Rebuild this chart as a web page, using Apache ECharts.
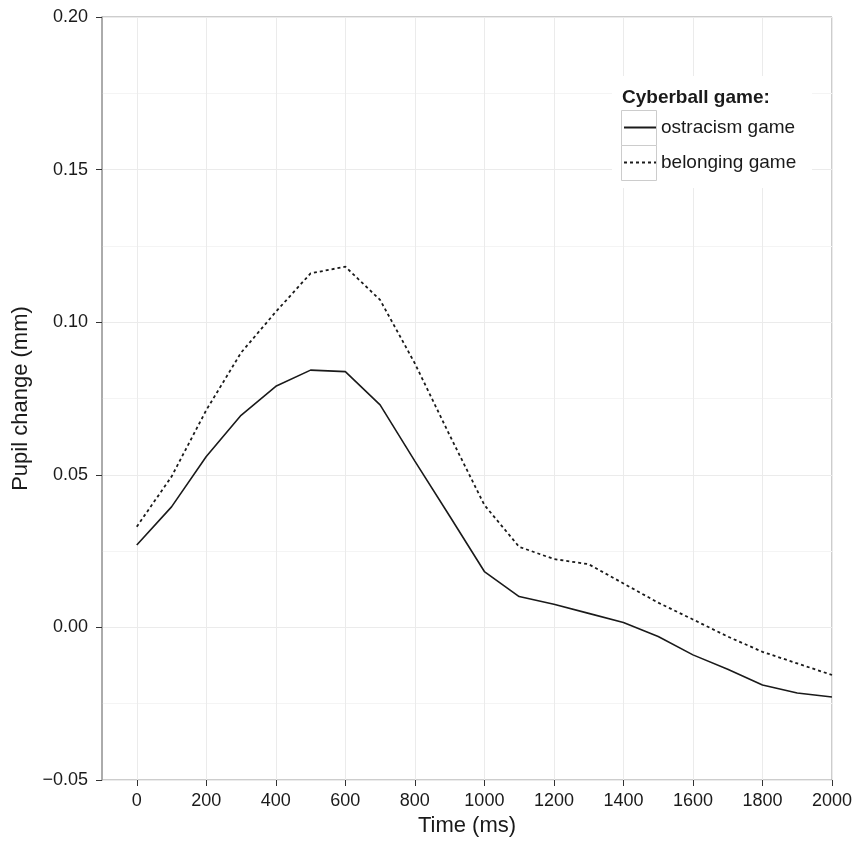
<!DOCTYPE html>
<html>
<head>
<meta charset="utf-8">
<title>Pupil change - Cyberball</title>
<script src="https://cdn.jsdelivr.net/npm/echarts@6.0.0/dist/echarts.min.js"></script>
<style>
  html, body { margin: 0; padding: 0; background: #fff; }
  #main { width: 857px; height: 843px; }
</style>
</head>
<body>
<div id="main"></div>
<script>
// 时间点 (ms)
const timeMs = [0, 100, 200, 300, 400, 500, 600, 700, 800, 900, 1000,
  1100, 1200, 1300, 1400, 1500, 1600, 1700, 1800, 1900, 2000]
// ostracism game
const ostracism = [0.027, 0.0395, 0.056, 0.0695, 0.079, 0.0843, 0.0838, 0.0729, 0.0545, 0.0365, 0.0183,
  0.0101, 0.0076, 0.0046, 0.0016, -0.003, -0.009, -0.0137, -0.0189, -0.0215, -0.0228]
// belonging game
const belonging = [0.033, 0.0494, 0.0712, 0.09, 0.1034, 0.116, 0.1182, 0.1073, 0.0865, 0.063, 0.0401,
  0.0264, 0.0224, 0.0207, 0.0144, 0.0081, 0.0026, -0.003, -0.008, -0.0118, -0.0156]
// X轴刻度
const timeTicks = [0, 200, 400, 600, 800, 1000, 1200, 1400, 1600, 1800, 2000]
const seriesNames = ['ostracism game', 'belonging game']
const legendTitle = 'Cyberball game:'

const font = '"Liberation Sans", Arial, Helvetica, sans-serif'
const ink = '#1a1a1a'

function pairs(values) {
  return timeMs.map((t, i) => [t, values[i]])
}

const myChart = echarts.init(document.getElementById('main'))

const option = {
  backgroundColor: '#fff',
  animation: false,
  textStyle: { fontFamily: font },
  grid: {
    left: 102,
    right: 25,
    top: 17,
    bottom: 63,
    outerBoundsMode: 'none',
    show: true,
    borderColor: '#9a9a9a',
    borderWidth: 1
  },
  legend: {
    orient: 'vertical',
    left: 623,
    top: 110,
    itemWidth: 32,
    itemHeight: 35,
    itemGap: 0,
    padding: 0,
    data: seriesNames,
    // 隐藏折线图例里的圆点，只留线
    itemStyle: { opacity: 0, borderWidth: 0 },
    textStyle: { fontFamily: font, fontSize: 19, color: ink, lineHeight: 35 }
  },
  // legend 背景 / 标题 / key 方框
  graphic: [
    {
      type: 'rect', z: 3, silent: true,
      shape: { x: 612, y: 76, width: 200, height: 112 },
      style: { fill: '#fff' }
    },
    {
      type: 'rect', z: 3, silent: true,
      shape: { x: 621.5, y: 110.5, width: 35, height: 35 },
      style: { fill: '#fff', stroke: '#cccccc', lineWidth: 1 }
    },
    {
      type: 'rect', z: 3, silent: true,
      shape: { x: 621.5, y: 145.5, width: 35, height: 35 },
      style: { fill: '#fff', stroke: '#cccccc', lineWidth: 1 }
    },
    {
      type: 'text', z: 4, silent: true,
      left: 622, top: 88,
      style: { text: legendTitle, font: 'bold 19px ' + font, fill: ink }
    }
  ],
  xAxis: {
    type: 'value',
    min: -100,
    max: 2000,
    name: 'Time (ms)',
    nameLocation: 'middle',
    nameGap: 32,
    nameTextStyle: { fontSize: 22, color: ink, fontFamily: font },
    axisLine: { show: false, onZero: false },
    axisTick: {
      show: true,
      customValues: timeTicks,
      length: 6,
      lineStyle: { color: '#333', width: 1 }
    },
    axisLabel: {
      customValues: timeTicks,
      margin: 12,
      fontSize: 18,
      color: ink,
      fontFamily: font,
      formatter: function (v) {
        return String(v)
      }
    },
    splitLine: { show: true, lineStyle: { color: '#ebebeb', width: 1 } }
  },
  yAxis: {
    type: 'value',
    min: -0.05,
    max: 0.2,
    interval: 0.05,
    name: 'Pupil change (mm)',
    nameLocation: 'middle',
    nameRotate: 90,
    nameGap: 67,
    nameTextStyle: { fontSize: 22, color: ink, fontFamily: font },
    axisLine: { show: true, onZero: false, lineStyle: { color: '#a0a0a0', width: 1.5 } },
    axisTick: { show: true, length: 6, lineStyle: { color: '#333', width: 1 } },
    axisLabel: {
      margin: 14,
      fontSize: 18,
      color: ink,
      fontFamily: font,
      formatter: function (v) {
        return v.toFixed(2).replace('-', '\u2212')
      }
    },
    splitLine: { show: true, lineStyle: { color: '#ebebeb', width: 1 } },
    minorTick: { show: false, splitNumber: 2 },
    minorSplitLine: { show: true, lineStyle: { color: '#f4f4f4', width: 1 } }
  },
  series: [
    {
      name: seriesNames[0],
      type: 'line',
      data: pairs(ostracism),
      symbol: 'none',
      color: ink,
      lineStyle: { color: ink, width: 1.6, type: 'solid' }
    },
    {
      name: seriesNames[1],
      type: 'line',
      data: pairs(belonging),
      symbol: 'none',
      color: ink,
      lineStyle: { color: ink, width: 1.8, type: [3, 3] }
    }
  ]
}

myChart.setOption(option)
</script>
</body>
</html>
